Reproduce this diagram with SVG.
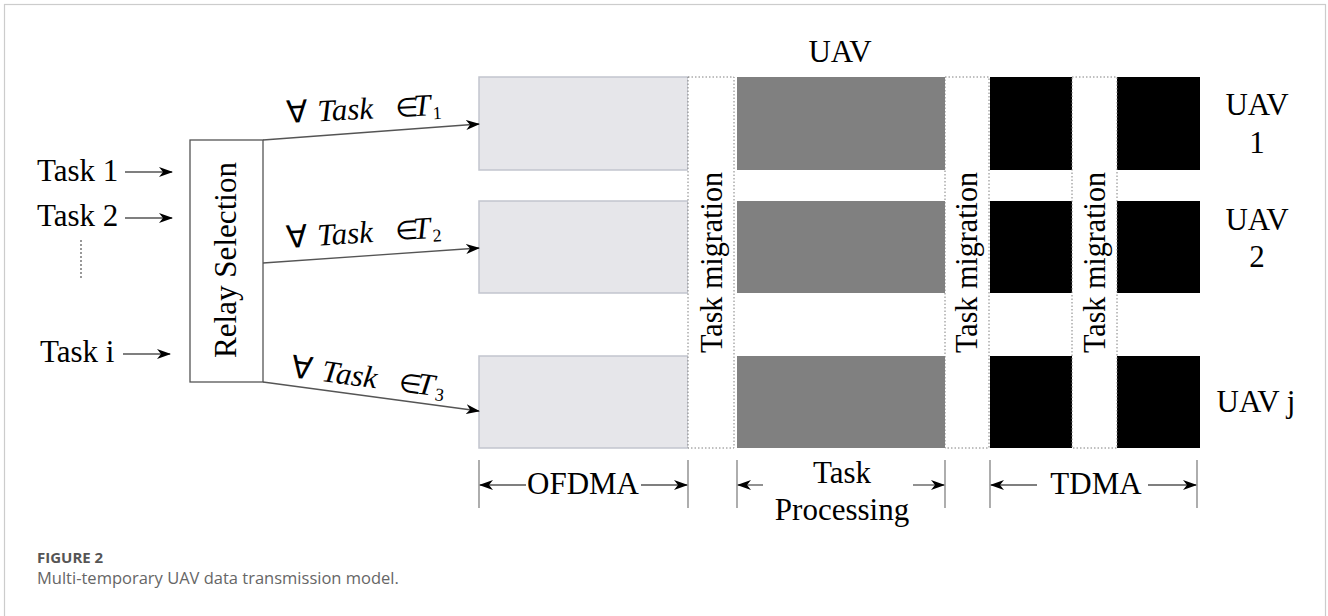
<svg xmlns="http://www.w3.org/2000/svg" width="1328" height="616" viewBox="0 0 1328 616">
<style>
.t{font-family:"Liberation Serif","Times New Roman",serif;font-size:31px;fill:#000}
.i{font-style:italic}
.el{font-size:26px}
.lt{fill:#e6e6ea;stroke:#c2c5ce;stroke-width:1.5}
.dk{fill:#808080}
.bk{fill:#000}
.mig{fill:#fff;stroke:#808080;stroke-width:1;stroke-dasharray:1.5 2}
.ln{stroke:#555;stroke-width:1.3;fill:none}
.tk{stroke:#777;stroke-width:1.2}
.cap{font-family:"Open Sans","Noto Sans",sans-serif}
</style>
<defs>
<marker id="ah" viewBox="0 0 14 10" refX="13" refY="5" markerWidth="14" markerHeight="10" markerUnits="userSpaceOnUse" orient="auto">
<path d="M0,0 L14,5 L0,10 L4,5 z" fill="#000"/>
</marker>
</defs>
<rect x="4.5" y="4.5" width="1321" height="640" fill="none" stroke="#ccc" stroke-width="1.2"/>

<g id="tasks">
<text class="t" x="37" y="181">Task 1</text>
<text class="t" x="37" y="226">Task 2</text>
<text class="t" x="40" y="362">Task i</text>
<line x1="81" y1="240" x2="81" y2="280" stroke="#555" stroke-width="1.2" stroke-dasharray="2 2"/>
</g>

<g id="relay">
<rect x="190" y="140" width="73" height="242" fill="#fff" stroke="#555" stroke-width="1.3"/>
<text class="t" transform="translate(236 260) rotate(-90)" text-anchor="middle" textLength="196" lengthAdjust="spacingAndGlyphs">Relay Selection</text>
</g>

<g id="ofdma">
<rect class="lt" x="479" y="77" width="209" height="93"/>
<rect class="lt" x="479" y="201" width="209" height="92"/>
<rect class="lt" x="479" y="356" width="209" height="92"/>
</g>

<g id="migration1">
<rect class="mig" x="688" y="77" width="46" height="371"/>
<text class="t" transform="translate(722 262.5) rotate(-90)" text-anchor="middle" textLength="181" lengthAdjust="spacingAndGlyphs">Task migration</text>
</g>

<g id="processing">
<rect class="dk" x="737" y="77" width="208" height="93"/>
<rect class="dk" x="737" y="201" width="208" height="92"/>
<rect class="dk" x="737" y="356" width="208" height="92"/>
</g>

<g id="migration2">
<rect class="mig" x="945" y="77" width="44" height="371"/>
<text class="t" transform="translate(977 262.5) rotate(-90)" text-anchor="middle" textLength="181" lengthAdjust="spacingAndGlyphs">Task migration</text>
</g>

<g id="tdma">
<rect class="bk" x="990" y="77" width="82" height="93"/>
<rect class="bk" x="990" y="201" width="82" height="92"/>
<rect class="bk" x="990" y="356" width="82" height="92"/>
<rect class="bk" x="1117" y="77" width="83" height="93"/>
<rect class="bk" x="1117" y="201" width="83" height="92"/>
<rect class="bk" x="1117" y="356" width="83" height="92"/>
</g>

<g id="migration3">
<rect class="mig" x="1072" y="77" width="45" height="371"/>
<text class="t" transform="translate(1105 262.5) rotate(-90)" text-anchor="middle" textLength="181" lengthAdjust="spacingAndGlyphs">Task migration</text>
</g>

<g id="uav-labels">
<text class="t" x="840" y="62" text-anchor="middle">UAV</text>
<text class="t" x="1257" y="115" text-anchor="middle">UAV</text>
<text class="t" x="1257" y="153" text-anchor="middle">1</text>
<text class="t" x="1257" y="230" text-anchor="middle">UAV</text>
<text class="t" x="1257" y="267" text-anchor="middle">2</text>
<text class="t" x="1256" y="412" text-anchor="middle">UAV j</text>
</g>

<g id="connectors">
<line class="ln" x1="125" y1="172" x2="172" y2="172" marker-end="url(#ah)"/>
<line class="ln" x1="125" y1="218" x2="172" y2="218" marker-end="url(#ah)"/>
<line class="ln" x1="123" y1="354" x2="170" y2="354" marker-end="url(#ah)"/>
<line class="ln" x1="263" y1="140" x2="479" y2="124" marker-end="url(#ah)"/>
<line class="ln" x1="263" y1="263" x2="479" y2="248" marker-end="url(#ah)"/>
<line class="ln" x1="263" y1="382" x2="479" y2="411" marker-end="url(#ah)"/>
</g>

<g id="edge-labels">
<text class="t" transform="rotate(-3 287 123)" x="287" y="123"><tspan>∀</tspan><tspan class="i" x="318">Task</tspan><tspan class="el" x="396">∈</tspan><tspan class="i" x="414">T</tspan><tspan x="433" dy="4" font-size="18">1</tspan></text>
<text class="t" transform="rotate(-4 287 248)" x="287" y="248"><tspan>∀</tspan><tspan class="i" x="318">Task</tspan><tspan class="el" x="396">∈</tspan><tspan class="i" x="414">T</tspan><tspan x="433" dy="4" font-size="18">2</tspan></text>
<text class="t" transform="rotate(7.5 290 377)" x="290" y="377"><tspan>∀</tspan><tspan class="i" x="321">Task</tspan><tspan class="el" x="399">∈</tspan><tspan class="i" x="417">T</tspan><tspan x="436" dy="4" font-size="18">3</tspan></text>
</g>

<g id="dimensions">
<line class="tk" x1="479" y1="460" x2="479" y2="508"/>
<line class="tk" x1="688" y1="460" x2="688" y2="508"/>
<line class="tk" x1="737" y1="460" x2="737" y2="508"/>
<line class="tk" x1="945" y1="460" x2="945" y2="508"/>
<line class="tk" x1="990" y1="460" x2="990" y2="508"/>
<line class="tk" x1="1197" y1="460" x2="1197" y2="508"/>
<line class="ln" x1="526" y1="485" x2="480" y2="485" marker-end="url(#ah)"/>
<line class="ln" x1="641" y1="485" x2="687" y2="485" marker-end="url(#ah)"/>
<line class="ln" x1="763" y1="485" x2="738" y2="485" marker-end="url(#ah)"/>
<line class="ln" x1="913" y1="485" x2="944" y2="485" marker-end="url(#ah)"/>
<line class="ln" x1="1037" y1="485" x2="991" y2="485" marker-end="url(#ah)"/>
<line class="ln" x1="1148" y1="485" x2="1196" y2="485" marker-end="url(#ah)"/>
<text class="t" x="583" y="494" text-anchor="middle">OFDMA</text>
<text class="t" x="842" y="483" text-anchor="middle">Task</text>
<text class="t" x="842" y="520" text-anchor="middle">Processing</text>
<text class="t" x="1096" y="494" text-anchor="middle">TDMA</text>
</g>

<g id="caption">
<text class="cap" x="37" y="563" font-size="15" font-weight="bold" fill="#555">FIGURE 2</text>
<text class="cap" x="37" y="584" font-size="16.5" fill="#666">Multi-temporary UAV data transmission model.</text>
</g>
</svg>
